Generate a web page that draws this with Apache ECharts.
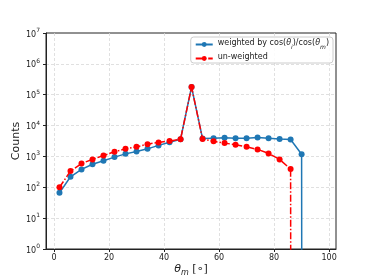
<!DOCTYPE html>
<html><head><meta charset="utf-8">
<script src="https://cdn.jsdelivr.net/npm/echarts@6/dist/echarts.min.js"></script>
<style>html,body{margin:0;padding:0;background:#fff}#c{width:374px;height:280px}</style>
</head><body><div id="c"></div>
<script>
const thetaM = [2,6,10,14,18,22,26,30,34,38,42,46,50,54,58,62,66,70,74,78,82,86,90,94,98];
const weighted = [66,219,380,560,720,950,1210,1450,1760,2280,2900,3600,178000,3800,3900,4000,3900,3900,4100,3900,3700,3550,1180,0,0];
const unweighted = [100,335,590,800,1070,1410,1770,2040,2500,2850,3150,3600,178000,3700,3100,2700,2400,2040,1690,1250,800,390,0,0,0];
const seriesNames = ['weighted by cos(θi)/cos(θm)', 'un-weighted'];
const seriesLabels = {
  'weighted by cos(θi)/cos(θm)': '{n|weighted by cos(}{i|θ}{s|i}{n|)/cos(}{i|θ}{s|m}{n|)}',
  'un-weighted': '{n|un-weighted}'
};
const yTickExps = [0,1,2,3,4,5,6,7];
const xTicks = [0,20,40,60,80,100];

// log axis cannot show 0: map zero counts to a vanishing value so the line drops off the chart
const toLog = v => v > 0 ? v : 1e-300;
const font = 'DejaVu Sans';
const col = '#222';
const chart = echarts.init(document.getElementById('c'), null, {renderer:'canvas'});
chart.setOption({
  animation:false,
  backgroundColor:'#fff',
  grid:{left:46,right:38,top:33,bottom:31,show:true,borderColor:col,borderWidth:1,backgroundColor:'transparent',
        outerBoundsMode:'none', containLabel:false},
  legend:{
    right:41, top:37, orient:'vertical', align:'left',
    itemWidth:17, itemHeight:6, itemGap:3,
    padding:[2,4,2,4],
    backgroundColor:'rgba(255,255,255,0.85)', borderColor:'#ccc', borderWidth:1, borderRadius:3,
    formatter:n => seriesLabels[n],
    textStyle:{fontSize:8, fontFamily:font, color:col,
      rich:{
        n:{fontSize:8, fontFamily:font, color:col, verticalAlign:'top', lineHeight:11},
        i:{fontSize:8, fontFamily:font, color:col, fontStyle:'italic', verticalAlign:'top', lineHeight:11},
        s:{fontSize:6, fontFamily:font, color:col, fontStyle:'italic', verticalAlign:'bottom'}
      }},
    data:seriesNames
  },
  xAxis:{
    type:'value', min:-2.9, max:102.5, splitNumber:5,
    name:'{i|θ}{s|m}{n| [∘]}', nameLocation:'middle', nameGap:15, nameMoveOverlap:false,
    nameTextStyle:{fontFamily:font, fontSize:11, color:col,
      rich:{
        i:{fontStyle:'italic', fontSize:11, fontFamily:font, color:col, verticalAlign:'top', lineHeight:13},
        s:{fontStyle:'italic', fontSize:8, fontFamily:font, color:col, verticalAlign:'bottom'},
        n:{fontSize:11, fontFamily:font, color:col, verticalAlign:'top', lineHeight:13}
      }},
    axisLine:{show:true, onZero:false, lineStyle:{color:col}},
    axisTick:{show:true, inside:false, length:3, lineStyle:{color:col}},
    axisLabel:{fontFamily:font, fontSize:8, color:col, margin:5, showMinLabel:false, showMaxLabel:false,
      formatter:v => xTicks.includes(Math.round(v*1000)/1000) ? String(v) : ''},
    splitLine:{show:true, showMinLine:false, showMaxLine:false, lineStyle:{color:'#d8d8d8', type:[3,2], width:0.8}}
  },
  yAxis:{
    type:'log', logBase:10, min:1, max:1e7,
    name:'Counts', nameLocation:'middle', nameGap:24, nameMoveOverlap:false,
    nameTextStyle:{fontFamily:font, fontSize:11, color:col},
    axisLine:{show:true, onZero:false, lineStyle:{color:col}},
    axisTick:{show:true, inside:false, length:3, lineStyle:{color:col}},
    axisLabel:{fontFamily:font, fontSize:8, color:col, margin:6,
      formatter:v => { const e = Math.round(Math.log10(v)); return yTickExps.includes(e) ? '{b|10}{e|' + e + '}' : ''; },
      rich:{
        b:{fontSize:8, fontFamily:font, color:col, verticalAlign:'bottom', lineHeight:11},
        e:{fontSize:6, fontFamily:font, color:col, verticalAlign:'top'}
      }},
    splitLine:{show:true, showMinLine:false, showMaxLine:false, lineStyle:{color:'#d8d8d8', type:[3,2], width:0.8}}
  },
  series:[
    {name:seriesNames[0], type:'line', clip:true,
     data:thetaM.map((x,i)=>[x, toLog(weighted[i])]),
     symbol:'circle', symbolSize:6, color:'#1f77b4',
     lineStyle:{color:'#1f77b4', width:1.5},
     itemStyle:{color:'#1f77b4'}, z:2},
    {name:seriesNames[1], type:'line', clip:true,
     data:thetaM.map((x,i)=>[x, toLog(unweighted[i])]),
     symbol:'circle', symbolSize:6, color:'#ff0000',
     lineStyle:{color:'#ff0000', width:1.5, type:[7,2,1.5,2]},
     itemStyle:{color:'#ff0000'}, z:3}
  ]
});
</script></body></html>
